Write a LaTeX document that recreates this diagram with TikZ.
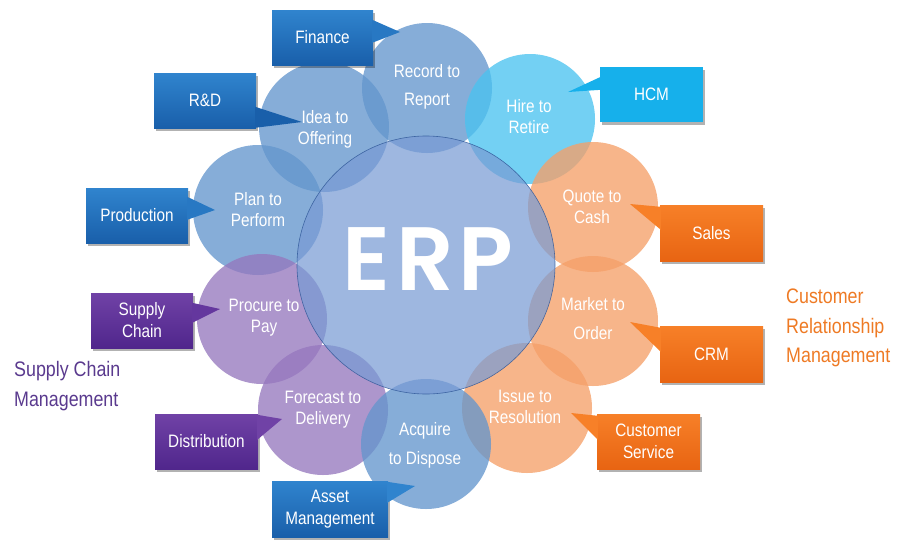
\documentclass[tikz,border=0pt]{standalone}
\usepackage{fontspec}
\setmainfont{Liberation Sans}[FakeStretch=0.85]
\newfontfamily\erpfont{Poppins}[UprightFont=* SemiBold]
\usetikzlibrary{calc,shadows}
\definecolor{cblue}{RGB}{100,150,205}
\definecolor{ccyan}{RGB}{75,195,240}
\definecolor{corange}{RGB}{245,160,105}
\definecolor{cpurple}{RGB}{150,120,190}
\definecolor{cerp}{RGB}{120,155,212}
\definecolor{cerpline}{RGB}{45,85,150}
\definecolor{bbtop}{RGB}{48,132,206}
\definecolor{bbbot}{RGB}{25,95,170}
\definecolor{bbmid}{RGB}{40,120,195}
\definecolor{bcyan}{RGB}{22,176,235}
\definecolor{bptop}{RGB}{112,66,166}
\definecolor{bpbot}{RGB}{80,38,140}
\definecolor{bpmid}{RGB}{100,55,158}
\definecolor{botop}{RGB}{247,128,40}
\definecolor{bobot}{RGB}{232,100,18}
\definecolor{tpurple}{RGB}{90,58,142}
\definecolor{torange}{RGB}{238,122,36}
\tikzset{
  smallc/.style={circle, minimum size=130pt, inner sep=0pt, fill opacity=0.78},
  ctext/.style={text=white, align=center, font=\fontsize{18}{21}\selectfont},
  box/.style={minimum height=55pt, minimum width=102pt, inner sep=2pt, text=white, align=center,
     font=\fontsize{18}{22}\selectfont,
     drop shadow={shadow xshift=1.5pt, shadow yshift=-3pt, opacity=0.3, fill=black}},
  bluebox/.style={box, top color=bbtop, bottom color=bbbot},
  cyanbox/.style={box, fill=bcyan},
  purplebox/.style={box, top color=bptop, bottom color=bpbot},
  orangebox/.style={box, top color=botop, bottom color=bobot},
  grplabel/.style={align=left, anchor=west, inner sep=0pt, font=\fontsize{21}{29.5}\selectfont},
}
\begin{document}
\begin{tikzpicture}[x=1pt, y=-1pt]
\useasboundingbox (0,0) rectangle (912,549);
% small circles
\node[smallc, fill=cblue]   (c1)  at (427,88)  {};
\node[smallc, fill=cblue]   (c10) at (324,127) {};
\node[smallc, fill=ccyan]   (c2)  at (530,119) {};
\node[smallc, fill=cblue]   (c9)  at (258,210) {};
\node[smallc, fill=corange] (c3)  at (593,207) {};
\node[smallc, fill=cpurple] (c8)  at (262,319) {};
\node[smallc, fill=corange] (c4)  at (593,321) {};
\node[smallc, fill=cpurple] (c7)  at (323,410) {};
\node[smallc, fill=corange] (c5)  at (527,408) {};
\node[smallc, fill=cblue]   (c6)  at (426,444) {};
% ERP circle
\node[circle, minimum size=258pt, inner sep=0pt, fill=cerp, fill opacity=0.72,
      draw=cerpline, draw opacity=0.8, line width=0.6pt] (erp) at (426,265) {};
\node[text=white, font=\erpfont\fontsize{90}{90}\selectfont, inner sep=0pt] (erpt) at (428,259) {E\kern6pt R\kern5pt P};
% circle texts
\node[ctext] (t1)  at (427,87)  {Record to\\[7pt]Report};
\node[ctext] (t2)  at (529,117) {Hire to\\Retire};
\node[ctext] (t10) at (325,129) {Idea to\\Offering};
\node[ctext] (t9)  at (258,210) {Plan to\\Perform};
\node[ctext] (t3)  at (592,207) {Quote to\\Cash};
\node[ctext] (t4)  at (593,319) {Market to\\[8pt]Order};
\node[ctext] (t8)  at (264,318) {Procure to\\Pay};
\node[ctext] (t5)  at (525,407) {Issue to\\Resolution};
\node[ctext] (t7)  at (323,410) {Forecast to\\Delivery};
\node[ctext] (t6)  at (425,445) {Acquire\\[8pt]to Dispose};
% pointer tips
\coordinate (pfin) at (400,32);
\coordinate (prd)  at (302,122);
\coordinate (ppro) at (215,210);
\coordinate (phcm) at (568,92);
\coordinate (psup) at (220,309);
\coordinate (pdis) at (282,419);
\coordinate (pass) at (415,486);
\coordinate (psal) at (630,204);
\coordinate (pcrm) at (630,322);
\coordinate (pcus) at (571,413);
% boxes
\node[bluebox, minimum width=101pt] (fin) at (322.5,37.5) {Finance};
\fill[bbmid] ($(fin.north east)+(-1,10)$) -- (pfin) -- ($(fin.north east)+(-1,33)$) -- cycle;

\node[bluebox] (rd) at (205,100.5) {R\&D};
\fill[bbbot] ($(rd.north east)+(-1,34)$) -- (prd) -- ($(rd.north east)+(-1,55)$) -- cycle;

\node[bluebox] (pro) at (137,215.5) {Production};
\fill[bbmid] ($(pro.north east)+(-1,9)$) -- (ppro) -- ($(pro.north east)+(-1,32)$) -- cycle;

\node[cyanbox, minimum width=103pt] (hcm) at (651.5,94.5) {HCM};
\fill[bcyan] ($(hcm.north west)+(1,10)$) -- (phcm) -- ($(hcm.north west)+(1,23)$) -- cycle;

\node[purplebox] (sup) at (142,320.5) {Supply\\Chain};
\fill[bpmid] ($(sup.north east)+(-1,10)$) -- (psup) -- ($(sup.north east)+(-1,30)$) -- cycle;

\node[purplebox, minimum width=103pt] (dis) at (206.5,441.5) {Distribution};
\fill[bptop] ($(dis.north east)+(-1,1)$) -- (pdis) -- ($(dis.north east)+(-1,26)$) -- cycle;

\node[bluebox, minimum width=116pt, minimum height=56pt] (ass) at (330,509) {Asset\\Management};
\fill[bbtop] ($(ass.north east)+(-1,1)$) -- (pass) -- ($(ass.north east)+(-1,22)$) -- cycle;

\node[orangebox, minimum width=103pt, minimum height=56pt] (sal) at (711.5,233) {Sales};
\fill[botop] ($(sal.north west)+(1,2)$) -- (psal) -- ($(sal.north west)+(1,25)$) -- cycle;

\node[orangebox, minimum width=103pt, minimum height=56pt] (crm) at (711.5,354) {CRM};
\fill[botop] ($(crm.north west)+(1,2)$) -- (pcrm) -- ($(crm.north west)+(1,26)$) -- cycle;

\node[orangebox, minimum width=103pt] (cus) at (648.5,441.5) {Customer\\Service};
\fill[botop] ($(cus.north west)+(1,2)$) -- (pcus) -- ($(cus.north west)+(1,26)$) -- cycle;
% group labels
\node[grplabel, text=tpurple] (scm) at (14,386) {Supply Chain\\Management};
\node[grplabel, text=torange] (crmg) at (786,328) {Customer\\Relationship\\Management};
\end{tikzpicture}
\end{document}
